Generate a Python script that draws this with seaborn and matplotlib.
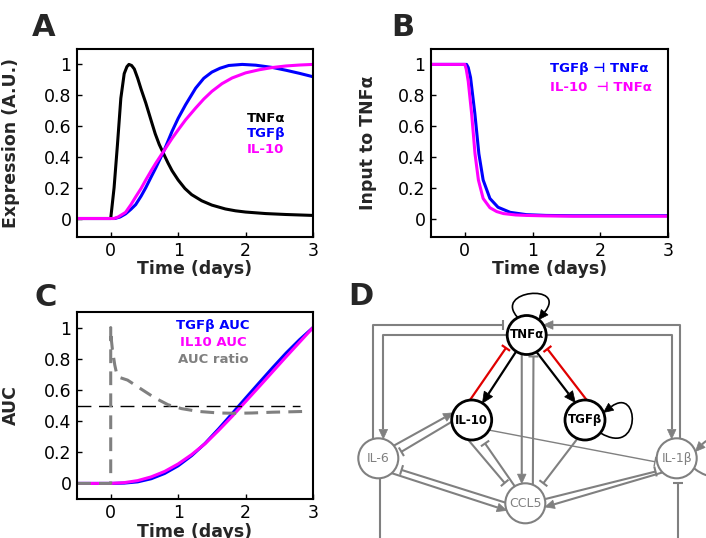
import numpy as np
import pandas as pd
import matplotlib
matplotlib.use("Agg")
import matplotlib.pyplot as plt
import seaborn as sns
from matplotlib.patches import Circle, Polygon, PathPatch
from matplotlib.path import Path

# ---------------- data ----------------
xticks = [0, 1, 2, 3]
yticks = [0, 0.2, 0.4, 0.6, 0.8, 1.0]
ytick_labels = ["0", "0.2", "0.4", "0.6", "0.8", "1"]

# Panel A: expression
tnf_t = [-0.5, 0.0, 0.05, 0.1, 0.15, 0.2, 0.24, 0.27, 0.31, 0.35, 0.4, 0.45, 0.52, 0.6,
         0.66, 0.72, 0.79, 0.85, 0.91, 1.0, 1.1, 1.2, 1.35, 1.5, 1.7, 1.85, 2.0, 2.3, 2.6, 3.0]
tnf_v = [0.0, 0.0, 0.2, 0.48, 0.78, 0.94, 0.985, 1.0, 0.993, 0.97, 0.91, 0.84, 0.75, 0.635,
         0.55, 0.48, 0.415, 0.36, 0.31, 0.25, 0.195, 0.155, 0.115, 0.087, 0.062, 0.05, 0.042,
         0.032, 0.026, 0.02]
tgf_t = [-0.5, 0.06, 0.14, 0.22, 0.3, 0.37, 0.45, 0.52, 0.6, 0.67, 0.79, 0.91, 1.0, 1.11,
         1.26, 1.38, 1.5, 1.62, 1.75, 1.95, 2.15, 2.4, 2.6, 2.8, 3.0]
tgf_v = [0.0, 0.0, 0.01, 0.03, 0.06, 0.09, 0.145, 0.2, 0.27, 0.33, 0.44, 0.566, 0.65, 0.738,
         0.846, 0.91, 0.95, 0.975, 0.993, 1.0, 0.995, 0.98, 0.962, 0.942, 0.92]
il10_t = [-0.5, 0.05, 0.11, 0.22, 0.3, 0.37, 0.45, 0.52, 0.6, 0.67, 0.79, 0.91, 1.0, 1.11,
          1.26, 1.38, 1.5, 1.65, 1.8, 2.0, 2.2, 2.4, 2.6, 2.8, 3.0]
il10_v = [0.0, 0.0, 0.01, 0.04, 0.09, 0.14, 0.195, 0.25, 0.31, 0.36, 0.44, 0.52, 0.575, 0.64,
          0.717, 0.775, 0.825, 0.875, 0.912, 0.945, 0.965, 0.98, 0.99, 0.996, 1.0]

# Panel B: input to TNFa
inB_tgf_t = [-0.5, 0.0, 0.025, 0.05, 0.084, 0.148, 0.207, 0.27, 0.37, 0.49, 0.67, 0.91,
             1.2, 1.6, 2.0, 2.5, 3.0]
inB_tgf_v = [1.0, 1.0, 1.0, 0.98, 0.915, 0.68, 0.42, 0.25, 0.13, 0.073, 0.04, 0.025,
             0.02, 0.018, 0.018, 0.018, 0.018]
inB_il10_t = [-0.5, 0.0, 0.02, 0.05, 0.1, 0.15, 0.2, 0.27, 0.37, 0.47, 0.57, 0.75, 0.91,
              1.2, 1.6, 2.0, 2.5, 3.0]
inB_il10_v = [1.0, 1.0, 0.97, 0.89, 0.68, 0.42, 0.25, 0.13, 0.07, 0.045, 0.032, 0.023,
              0.02, 0.017, 0.015, 0.015, 0.015, 0.015]

# Panel C: AUC
auc_t = [-0.5, 0.0, 0.2, 0.4, 0.6, 0.8, 1.0, 1.2, 1.4, 1.6, 1.8, 2.0, 2.2, 2.4, 2.6, 2.8, 3.0]
auc_tgf = [0, 0, 0.002, 0.01, 0.03, 0.064, 0.113, 0.178, 0.257, 0.35, 0.448, 0.547, 0.645,
           0.742, 0.836, 0.922, 1.0]
auc_il10 = [0, 0, 0.005, 0.018, 0.042, 0.077, 0.125, 0.185, 0.255, 0.34, 0.43, 0.525, 0.62,
            0.716, 0.812, 0.906, 1.0]
ratio_t = [-0.5, 0.0, 0.0, 0.01, 0.025, 0.06, 0.09, 0.13, 0.25, 0.45, 0.65, 0.85, 1.05, 1.3,
           1.6, 1.85, 2.1, 2.4, 2.7, 2.88]
ratio_v = [0.0, 0.0, 1.0, 0.92, 0.86, 0.76, 0.70, 0.68, 0.663, 0.606, 0.55, 0.505, 0.48,
           0.462, 0.452, 0.45, 0.452, 0.457, 0.46, 0.462]
half_t = [-0.5, 2.8]
half_v = [0.5, 0.5]

# Panel D: network
node_names = ["TNFα", "IL-10", "TGFβ", "IL-6", "IL-1β", "CCL5"]
core_nodes = ["TNFα", "IL-10", "TGFβ"]

# ---------------- style ----------------
sns.set_style("ticks")
plt.rcParams['font.family'] = ['DejaVu Sans', 'Noto Sans']

BLUE = "#0000ff"
MAG = "#ff00ff"
GRAY = "#808080"
RED = "#e00000"

W, H = 706, 538
fig = plt.figure(figsize=(W / 100, H / 100), dpi=100)


def px_axes(left, top, right, bottom):
    return fig.add_axes([left / W, (H - bottom) / H, (right - left) / W, (bottom - top) / H])


def style(ax, ylo, ylabel, ylab_x):
    ax.set_xlim(-0.5, 3)
    ax.set_ylim(ylo, 1.1)
    ax.set_xticks(xticks)
    ax.set_xticklabels([str(v) for v in xticks])
    ax.set_yticks(yticks)
    ax.set_yticklabels(ytick_labels)
    for s in ax.spines.values():
        s.set_visible(True)
        s.set_linewidth(1.5)
        s.set_color("black")
    ax.tick_params(direction="in", length=3.5, width=1, labelsize=12.5, colors="black")
    ax.tick_params(axis="x", pad=3.5)
    ax.tick_params(axis="y", pad=4)
    ax.set_xlabel("Time (days)", fontsize=12.5, fontweight="bold")
    ax.set_ylabel(ylabel, fontsize=12.5, fontweight="bold")
    ax.xaxis.set_label_coords(0.5, -0.125)
    ax.yaxis.set_label_coords(ylab_x, 0.5)
    ax.grid(False)


def line(ax, x, y, color, lw=2.2, dashes=None):
    sns.lineplot(x=x, y=y, ax=ax, color=color, linewidth=lw, estimator=None,
                 sort=False, legend=False)
    ln = ax.lines[-1]
    ln.set_solid_capstyle("butt")
    ln.set_solid_joinstyle("round")
    if dashes is not None:
        ln.set_linestyle((0, dashes))
    return ln


# ---------------- Panel A ----------------
axA = px_axes(77, 49, 313, 237)
line(axA, tnf_t, tnf_v, "black")
line(axA, tgf_t, tgf_v, BLUE)
line(axA, il10_t, il10_v, MAG)
style(axA, -0.12, "Expression (A.U.)", -0.2415)
for txt, col, yy in [("TNFα", "black", 0.612), ("TGFβ", BLUE, 0.530), ("IL-10", MAG, 0.447)]:
    axA.text(0.72, yy, txt, color=col, fontsize=9.5, fontweight="bold",
             transform=axA.transAxes, va="baseline", ha="left")

# ---------------- Panel B ----------------
axB = px_axes(431, 49, 668, 237)
line(axB, inB_tgf_t, inB_tgf_v, BLUE)
line(axB, inB_il10_t, inB_il10_v, MAG)
style(axB, -0.12, "Input to TNFα", -0.229)
axB.text(0.502, 0.878, "TGFβ ⊣ TNFα", color=BLUE, fontsize=9.5, fontweight="bold",
         transform=axB.transAxes, va="baseline", ha="left")
axB.text(0.502, 0.777, "IL-10  ⊣ TNFα", color=MAG, fontsize=9.5, fontweight="bold",
         transform=axB.transAxes, va="baseline", ha="left")

# ---------------- Panel C ----------------
axC = px_axes(77, 312, 313, 499)
line(axC, auc_t, auc_tgf, BLUE)
line(axC, auc_t, auc_il10, MAG)
line(axC, half_t, half_v, "black", lw=1.0, dashes=(10, 5.5))
line(axC, ratio_t, ratio_v, GRAY, lw=2.2, dashes=(4.5, 2.7))
style(axC, -0.1, "AUC", -0.2415)
axC.xaxis.set_label_coords(0.5, -0.128)
for txt, col, yy in [("TGFβ AUC", BLUE, 0.909), ("IL10 AUC", MAG, 0.818), ("AUC ratio", GRAY, 0.727)]:
    axC.text(0.576, yy, txt, color=col, fontsize=9.5, fontweight="bold",
             transform=axC.transAxes, va="baseline", ha="center")

# ---------------- Panel letters ----------------
for letter, xp, yp in [("A", 32, 36), ("B", 391, 36), ("C", 35, 306), ("D", 348, 305)]:
    fig.text(xp / W, (H - yp) / H, letter, fontsize=22, fontweight="bold", va="baseline",
             ha="left")

# ---------------- Panel D : network ----------------
axD = px_axes(340, 270, 706, 538)
axD.set_xlim(340, 706)
axD.set_ylim(538, 270)
axD.axis("off")

pos = {"TNFα": (526.7, 335.0), "IL-10": (471.7, 420.0), "TGFβ": (585.0, 420.0),
       "IL-6": (378.3, 458.3), "IL-1β": (676.7, 458.3), "CCL5": (525.3, 503.3)}
rad = {"TNFα": 19.5, "IL-10": 20, "TGFβ": 20, "IL-6": 20, "IL-1β": 20, "CCL5": 20}


def unit(v):
    v = np.asarray(v, float)
    return v / np.hypot(*v)


def on_circle(n, ang, extra=0.0):
    c = np.array(pos[n])
    a = np.deg2rad(ang)
    r = rad[n] + extra
    return c + r * np.array([np.cos(a), -np.sin(a)])


def draw_head(tip, d, kind, color, lw, big=False):
    d = unit(d)
    p = np.array([-d[1], d[0]])
    if kind == "arrow":
        L, Wd = (11, 5.0) if big else (9.5, 4.3)
        base = tip - d * L
        axD.add_patch(Polygon([tip, base + p * Wd, base - p * Wd], closed=True,
                              facecolor=color, edgecolor=color, lw=0.5, zorder=3))
        return base
    elif kind == "tee":
        hw = 5.0
        axD.plot([tip[0] + p[0] * hw, tip[0] - p[0] * hw], [tip[1] + p[1] * hw, tip[1] - p[1] * hw],
                 color=color, lw=lw, solid_capstyle="butt", zorder=3)
        return tip
    return tip


def polyline(pts, kind, color, lw=1.5, big=False):
    pts = [np.array(p, float) for p in pts]
    tip = pts[-1]
    d = tip - pts[-2]
    end = draw_head(tip, d, kind, color, lw, big)
    xs = [p[0] for p in pts[:-1]] + [end[0]]
    ys = [p[1] for p in pts[:-1]] + [end[1]]
    axD.plot(xs, ys, color=color, lw=lw, solid_capstyle="butt", zorder=2)


def edge(a, ang_a, b, ang_b, kind, color, lw=1.5, gap=0.0, big=False):
    s = on_circle(a, ang_a)
    e = on_circle(b, ang_b, gap)
    polyline([s, e], kind, color, lw, big)


def loop(n, ang_s, ang_e, c1, c2, color, lw):
    s = on_circle(n, ang_s)
    e = on_circle(n, ang_e)
    c1 = np.array(c1); c2 = np.array(c2)
    d = e - c2
    base = draw_head(e, d, "arrow", color, lw, big=False)
    path = Path([s, c1, c2, base], [Path.MOVETO, Path.CURVE4, Path.CURVE4, Path.CURVE4])
    axD.add_patch(PathPatch(path, facecolor="none", edgecolor=color, lw=lw, zorder=2))


# TNFa <-> IL-10, TGFb (black activation, red inhibition)
edge("TNFα", -122.6, "IL-10", 57.6, "arrow", "black", lw=1.6, big=True)
edge("IL-10", 95, "TNFα", -148, "tee", RED, lw=1.6, gap=5)
edge("TNFα", -59.9, "TGFβ", 119, "arrow", "black", lw=1.6, big=True)
edge("TGFβ", 85, "TNFα", -34, "tee", RED, lw=1.6, gap=5.5)

# TNFa <-> CCL5
edge("TNFα", -104.7, "CCL5", 100.2, "arrow", GRAY)
edge("CCL5", 67.8, "TNFα", -72.5, "tee", GRAY, gap=3)

# IL-6 <-> IL-10
edge("IL-6", 39.2, "IL-10", 159, "arrow", GRAY)
edge("IL-10", -175, "IL-6", 15.8, "tee", GRAY, gap=4)
# IL-10 -| IL-1b
edge("IL-10", -30.3, "IL-1β", -171, "tee", GRAY, lw=1.0, gap=2)
# IL-10 <-> CCL5
edge("IL-10", -100.5, "CCL5", 135.4, "tee", GRAY, gap=9)
edge("CCL5", 121.8, "IL-10", -60.3, "tee", GRAY, gap=7)
# TGFb -| CCL5
edge("TGFβ", -112, "CCL5", 48, "tee", GRAY, gap=7)
# IL-6 <-> CCL5
edge("CCL5", 178, "IL-6", -26.6, "tee", GRAY, gap=6)
edge("IL-6", -48, "CCL5", -159, "arrow", GRAY)
# IL-1b <-> CCL5
edge("CCL5", 12, "IL-1β", -148, "tee", GRAY, gap=5)
edge("IL-1β", -135, "CCL5", -10.7, "arrow", GRAY)

# routed edges between TNFa and IL-6 / IL-1b
xt, yt = pos["TNFα"]
x6, y6 = pos["IL-6"]
x1, y1 = pos["IL-1β"]
polyline([(x6 - 5, y6 - 19.4), (x6 - 5, yt - 10), (xt - rad["TNFα"] - 4, yt - 10)], "tee", GRAY)
polyline([(xt - rad["TNFα"], yt), (x6 + 5, yt), (x6 + 5, y6 - 19.4)], "arrow", GRAY)
polyline([(x1 + 3.5, y1 - 19.7), (x1 + 3.5, yt - 10), (xt + 16.8, yt - 10)], "arrow", GRAY)
polyline([(xt + rad["TNFα"], yt), (x1 - 5, yt), (x1 - 5, y1 - 19.4)], "arrow", GRAY)

# lines leaving the cropped area at the bottom
axD.plot([x6 + 1.7, x6 + 1.7], [y6 + 20, 545], color=GRAY, lw=1.5, zorder=2)
polyline([(x1 + 1.7, 545), (x1 + 1.7, y1 + 25)], "tee", GRAY)

# self loops
loop("TNFα", 117, 52, (492, 290), (568, 283), "black", 1.2)
loop("TGFβ", -40, 22, (642, 458), (640, 385), "black", 1.2)
loop("IL-1β", -30, 20, (735, 500), (725, 420), GRAY, 1.5)

# nodes
for n in node_names:
    cx, cy = pos[n]
    core = n in core_nodes
    col = "black" if core else GRAY
    axD.add_patch(Circle((cx, cy), rad[n], facecolor="white", edgecolor=col,
                         lw=2.0 if core else 1.5, zorder=4))
    axD.text(cx, cy, n, ha="center", va="center", fontsize=8.5 if core else 9.0, color=col,
             fontweight="bold" if core else "normal", zorder=5)

fig.savefig("out.png", dpi=100)
